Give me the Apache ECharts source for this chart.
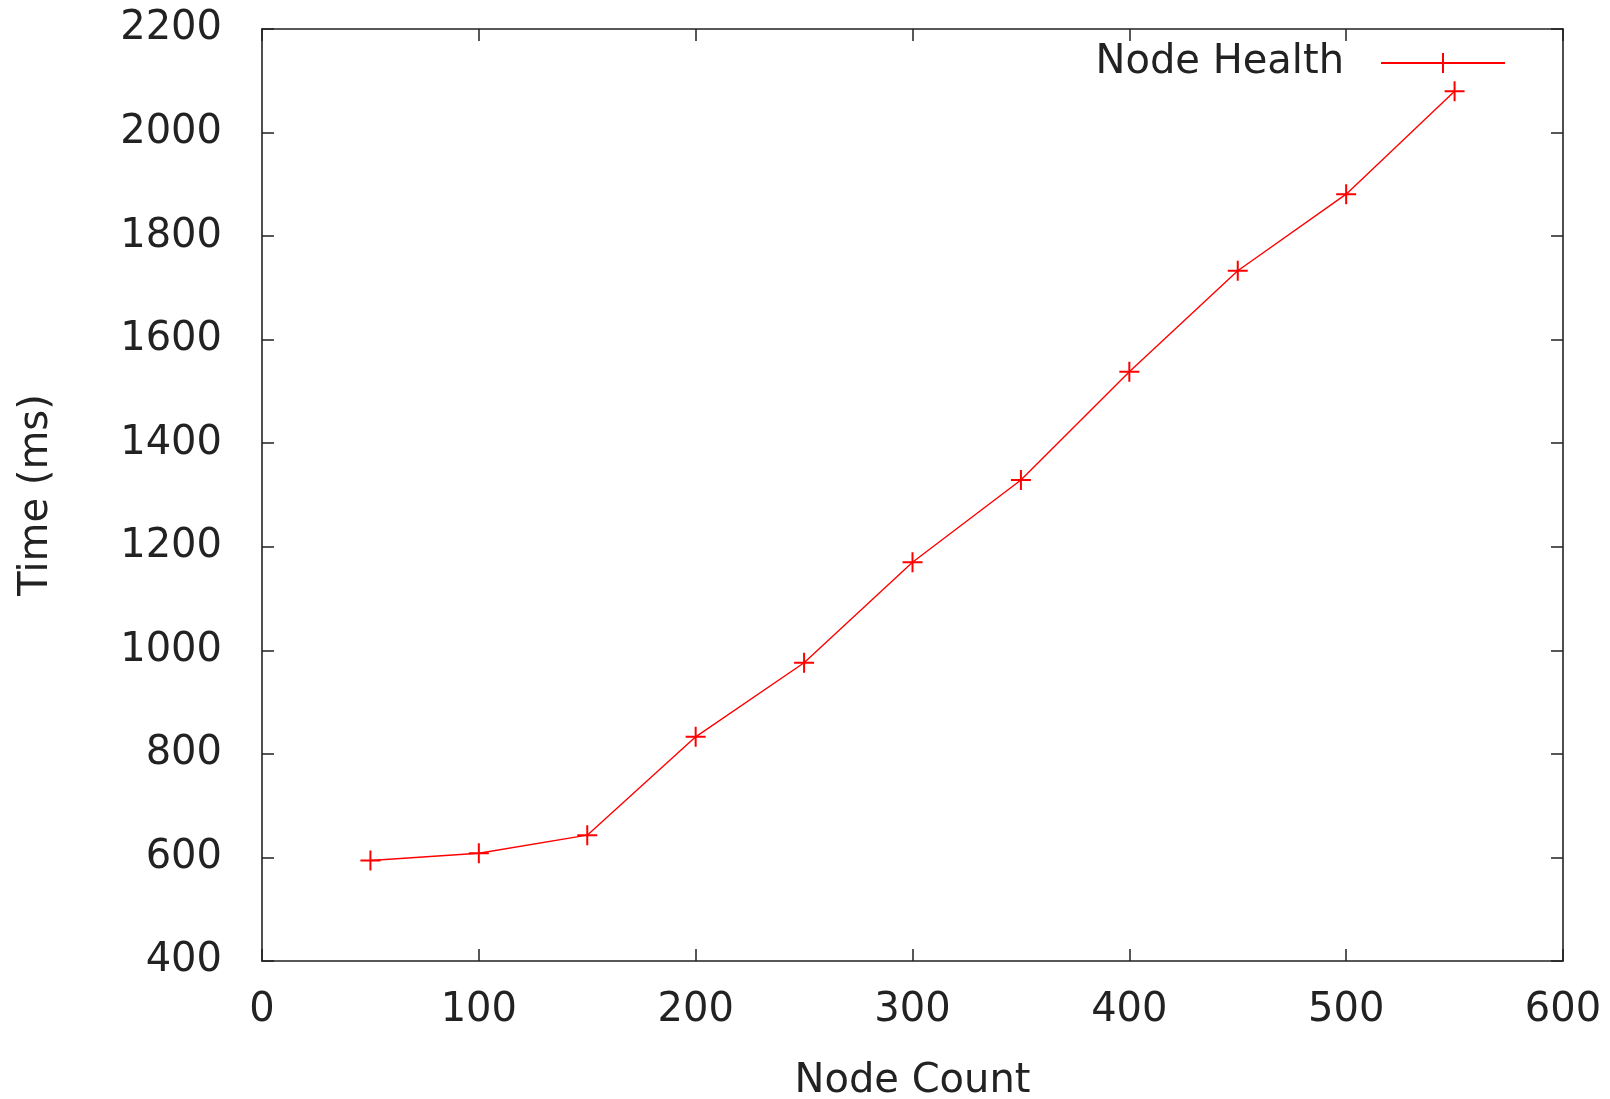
<!DOCTYPE html>
<html>
  <head>
    <meta charset="utf-8" />
    <script src="https://cdn.jsdelivr.net/npm/echarts@6.0.0/dist/echarts.min.js"></script>
  </head>
  <body style="margin:0;background:#fff;">
    <div id="main" style="width: 1610px;height:1099px;"></div>
    <script type="text/javascript">
      // values
      const nodeCounts = [50, 100, 150, 200, 250, 300, 350, 400, 450, 500, 550];
      const timesMs = [594, 608, 643, 833, 976, 1170, 1329, 1538, 1733, 1881, 2080];
      const seriesName = 'Node Health';
      const xName = 'Node Count';
      const yName = 'Time (ms)';

      const myChart = echarts.init(document.getElementById('main'));
      const font = 'DejaVu Sans';
      const ink = '#222';
      const plusIcon = 'path://M9,0h2v9h9v2h-9v9h-2v-9h-9v-2h9z';

      // fresh objects for every axis so nothing gets shared
      const frame = () => ({ show: true, onZero: false, lineStyle: { color: ink, width: 1.6 } });
      const tick = () => ({ show: true, inside: true, length: 12, lineStyle: { color: ink, width: 1.5 } });
      const label = (extra) => Object.assign({ color: ink, fontFamily: font, fontSize: 40 }, extra || {});

      const option = {
        animation: false,
        backgroundColor: '#fff',
        grid: {
          left: 262, right: 47, top: 29, bottom: 138,
          containLabel: false,
          outerBoundsMode: 'none'
        },
        legend: {
          right: 104,
          top: 43,
          padding: 0,
          align: 'right',
          itemWidth: 124,
          itemHeight: 25,
          textStyle: { color: ink, fontFamily: font, fontSize: 40, padding: [0, 32, 0, 0] },
          data: [seriesName]
        },
        xAxis: [
          { type: 'value',
            min: 0, max: 600, interval: 100,
            name: xName,
            nameLocation: 'middle',
            nameGap: 101,
            nameTextStyle: label(),
            axisLine: frame(),
            axisTick: tick(),
            axisLabel: label({ margin: 30 }),
            splitLine: { show: false }
          },
          { type: 'value',
            position: 'top',
            min: 0, max: 600, interval: 100,
            axisLine: frame(),
            axisTick: tick(),
            axisLabel: { show: false },
            splitLine: { show: false }
          }
        ],
        yAxis: [
          { type: 'value',
            position: 'left',
            min: 400, max: 2200, interval: 200,
            name: yName,
            nameLocation: 'middle',
            nameGap: 205,
            nameTextStyle: label(),
            axisLine: frame(),
            axisTick: tick(),
            axisLabel: label({ margin: 40, formatter: (v) => String(v) }),
            splitLine: { show: false }
          },
          { type: 'value',
            position: 'right',
            min: 400, max: 2200, interval: 200,
            axisLine: frame(),
            axisTick: tick(),
            axisLabel: { show: false },
            splitLine: { show: false }
          }
        ],
        series: [
          { name: seriesName,
            type: 'line',
            xAxisIndex: 0,
            yAxisIndex: 0,
            data: nodeCounts.map((n, i) => [n, timesMs[i]]),
            symbol: plusIcon,
            symbolSize: 20,
            showAllSymbol: true,
            itemStyle: { color: '#ff0000' },
            lineStyle: { color: '#ff0000', width: 1.4 }
          }
        ]
      };

      myChart.setOption(option);
    </script>
  </body>
</html>
